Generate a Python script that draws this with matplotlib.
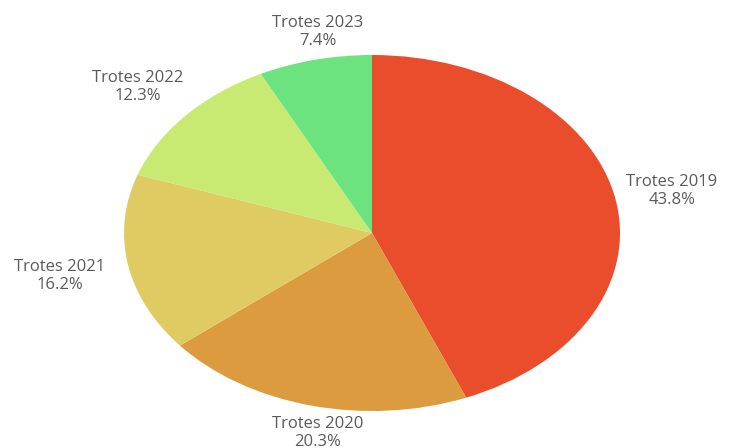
import matplotlib.pyplot as plt

labels = ["Trotes 2019", "Trotes 2020", "Trotes 2021", "Trotes 2022", "Trotes 2023"]
values = [43.8, 20.3, 16.2, 12.3, 7.4]
colors = ["#EA4D2B", "#DC9B3E", "#DFCB62", "#C8EA72", "#6CE37F"]

# label block centres in pixel coords (x, y from top)
label_px = [(672, 191), (318, 433), (60, 276), (138, 87), (318, 32)]

W, H = 733, 448
cx, cy, rx, ry = 372, 233, 248, 178

plt.rcParams['font.family'] = ['Open Sans', 'DejaVu Sans']
fig = plt.figure(figsize=(W / 100, H / 100), dpi=100)
fig.patch.set_facecolor('white')
ax = fig.add_axes([(cx - rx) / W, (H - cy - ry) / H, 2 * rx / W, 2 * ry / H])
ax.pie(values, colors=colors, startangle=90, counterclock=False,
       radius=1, wedgeprops=dict(linewidth=0))
ax.set_aspect('auto')
ax.set_xlim(-1, 1)
ax.set_ylim(-1, 1)
ax.axis('off')

for lab, v, (px, py) in zip(labels, values, label_px):
    fig.text(px / W, (H - py) / H, f"{lab}\n{v:.1f}%", ha='center', va='center',
             fontsize=12, color='#5a5a5a', linespacing=1.15)

fig.savefig('out.png', dpi=100, facecolor='white')
